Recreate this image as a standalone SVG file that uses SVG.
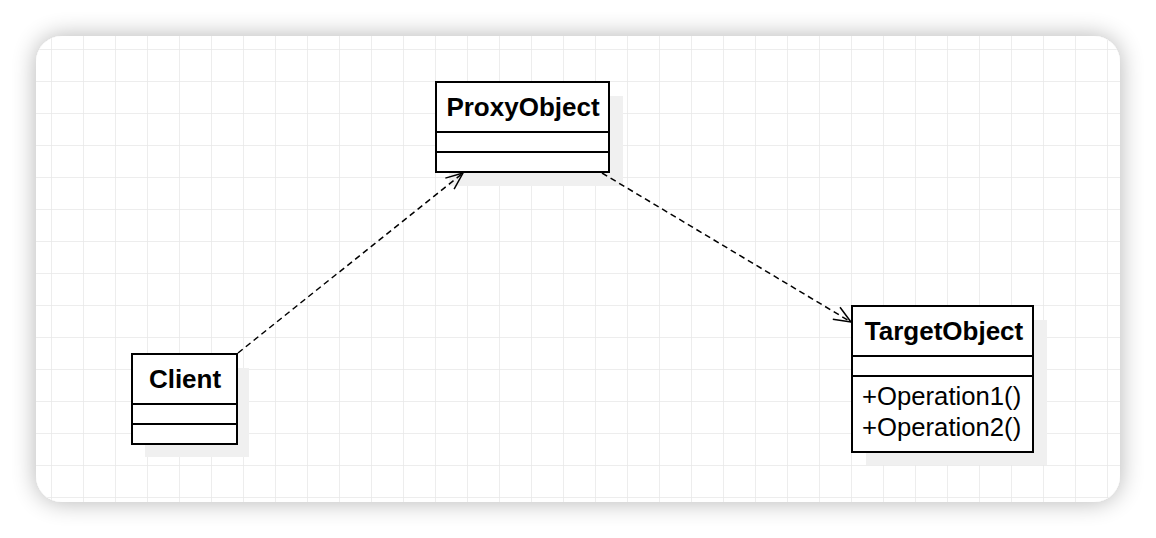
<svg xmlns="http://www.w3.org/2000/svg" width="1156" height="538" viewBox="0 0 1156 538">
  <defs>
    <filter id="cardShadow" x="-10%" y="-20%" width="120%" height="140%">
      <feGaussianBlur in="SourceAlpha" stdDeviation="12"/>
      <feComponentTransfer><feFuncA type="linear" slope="0.3"/></feComponentTransfer>
      <feMerge><feMergeNode/><feMergeNode in="SourceGraphic"/></feMerge>
    </filter>
    <pattern id="grid" x="20" y="18" width="32" height="32" patternUnits="userSpaceOnUse">
      <path d="M32 0 V32 M0 32 H32" fill="none" stroke="#e8e8e8" stroke-width="1.5"/>
    </pattern>
    <clipPath id="cardClip"><rect x="36" y="36" width="1084" height="466" rx="26"/></clipPath>
    <marker id="openArrow" viewBox="0 0 20 20" refX="19" refY="10" markerWidth="20" markerHeight="20" markerUnits="userSpaceOnUse" orient="auto">
      <path d="M2 3 L19 10 L2 17" fill="none" stroke="#000" stroke-width="1.5"/>
    </marker>
  </defs>
  <style>
    .box { fill: #ffffff; stroke: #000000; stroke-width: 2; }
    .shadow { fill: #f0f0f0; }
    .div { stroke: #000000; stroke-width: 2; }
    .title { font-family: "Liberation Sans", Arial, sans-serif; font-weight: bold; font-size: 26px; fill: #000; text-anchor: middle; }
    .op { font-family: "Liberation Sans", Arial, sans-serif; font-size: 25.7px; fill: #000; }
    .link { fill: none; stroke: #000; stroke-width: 1.5; stroke-dasharray: 6 4; }
  </style>
  <rect width="1156" height="538" fill="#ffffff"/>
  <rect x="36" y="36" width="1084" height="466" rx="26" fill="#ffffff" filter="url(#cardShadow)"/>
  <rect x="36" y="36" width="1084" height="466" fill="url(#grid)" clip-path="url(#cardClip)"/>

  <g id="proxyobject">
    <rect class="shadow" x="449" y="96" width="174" height="90"/>
    <rect class="box" x="436" y="82" width="173" height="90"/>
    <line class="div" x1="436" y1="132" x2="609" y2="132"/>
    <line class="div" x1="436" y1="152" x2="609" y2="152"/>
    <text class="title" x="523" y="116">ProxyObject</text>
  </g>

  <g id="client">
    <rect class="shadow" x="145" y="368" width="104" height="89"/>
    <rect class="box" x="132" y="354" width="105" height="90"/>
    <line class="div" x1="132" y1="404" x2="237" y2="404"/>
    <line class="div" x1="132" y1="424" x2="237" y2="424"/>
    <text class="title" x="185" y="388">Client</text>
  </g>

  <g id="targetobject">
    <rect class="shadow" x="866" y="320" width="181" height="145"/>
    <rect class="box" x="852" y="306" width="181" height="146"/>
    <line class="div" x1="852" y1="356" x2="1033" y2="356"/>
    <line class="div" x1="852" y1="376" x2="1033" y2="376"/>
    <text class="title" x="944" y="340">TargetObject</text>
    <text class="op" x="862" y="405">+Operation1()</text>
    <text class="op" x="862" y="436">+Operation2()</text>
  </g>

  <g id="connectors">
    <path class="link" d="M238 353 L463 173" marker-end="url(#openArrow)"/>
    <path class="link" d="M602 173 L851 322" marker-end="url(#openArrow)"/>
  </g>
</svg>
